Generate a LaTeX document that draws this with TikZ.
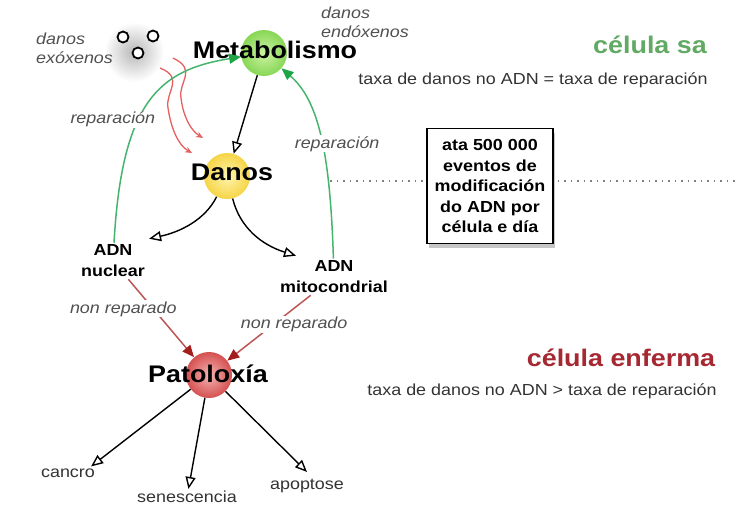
\documentclass[tikz,border=0pt]{standalone}
\usepackage{fontspec}
\setmainfont{Liberation Sans}[FakeStretch=1.12]
\usetikzlibrary{arrows.meta,shadows}
\definecolor{healthy}{RGB}{98,170,100}
\definecolor{sick}{RGB}{165,40,50}
\definecolor{fixline}{RGB}{70,180,110}
\definecolor{fixhead}{RGB}{30,165,70}
\definecolor{lossline}{RGB}{190,85,85}
\definecolor{losshead}{RGB}{165,30,30}
\definecolor{hit}{RGB}{232,95,95}
\definecolor{note}{RGB}{80,80,80}
\tikzset{
x=1pt, y=-1pt, % one unit per pixel, y runs downwards
ball/.style={circle, minimum size=46pt, inner sep=0pt}, % the shaded spheres
big/.style={font=\bfseries\fontsize{24}{28}\selectfont}, % text on the spheres
word/.style={font=\fontsize{16}{19}\selectfont, text=black!80, inner sep=2pt},
dna/.style={font=\bfseries\fontsize{16}{21}\selectfont, align=center, inner sep=2pt},
lbl/.style={font=\itshape\fontsize{16}{19}\selectfont, text=note, fill=white, inner sep=1pt}, % labels on the edges
radical/.style={draw, circle, minimum size=11pt, inner sep=0pt, line width=1.8pt, fill=white},
fact/.style={draw, fill=white, line width=1.2pt, align=center, font=\bfseries\fontsize{16}{20.5}\selectfont,
  minimum width=126pt, minimum height=115pt, drop shadow={opacity=.45, shadow xshift=2pt, shadow yshift=-4pt}},
hollow/.style={-{Triangle[open, length=12pt, width=10pt]}, line width=1.4pt}, % plain black arrows
fix/.style={draw=fixline, line width=1.5pt, -{Triangle[length=12pt, width=10pt, color=fixhead]}}, % repair
loss/.style={draw=lossline, line width=1.5pt, -{Triangle[length=12pt, width=10pt, color=losshead]}}, % not repaired
hitarrow/.style={draw=hit, line width=1.3pt, -{Stealth[length=7pt, width=6pt]}},
}
\begin{document}
\begin{tikzpicture}
    \useasboundingbox (0,0) rectangle (736,512);
    % blurred shadow under the radicals
    \shade[inner color=black!28, outer color=white] (134,52) circle (30);
    \node[radical] at (123,37) (r1) {};
    \node[radical] at (153,36) (r2) {};
    \node[radical] at (138,53) (r3) {};
    \node[lbl, fill=none, anchor=west, align=left] at (35,48) (exo) {danos\\exóxenos};
    \node[lbl, fill=none, anchor=west, align=left] at (320,22) (endo) {danos\\endóxenos};
    % divider between healthy and sick cell
    \coordinate (cut) at (330,181);
    \coordinate (rim) at (736,181);
    \draw[gray, line width=1.2pt, dash pattern=on 1.5pt off 5pt] (cut) -- (rim);
    \node[fact] at (490,186) (fact) {ata 500 000\\eventos de\\modificación\\do ADN por\\célula e día};
    \node[ball, inner color={rgb,255:red,205;green,242;blue,165}, outer color={rgb,255:red,135;green,215;blue,85},
      label={[big, xshift=11pt, yshift=3pt]center:Metabolismo}] at (264,53) (meta) {};
    \node[ball, inner color={rgb,255:red,255;green,246;blue,175}, outer color={rgb,255:red,246;green,212;blue,70},
      label={[big, xshift=5pt, yshift=4pt]center:Danos}] at (227,176) (dano) {};
    \node[ball, inner color={rgb,255:red,246;green,180;blue,180}, outer color={rgb,255:red,212;green,80;blue,80},
      label={[big, xshift=-1pt, yshift=1pt]center:Patoloxía}] at (209,375) (pato) {};
    \node[dna] at (113,261) (nucl) {ADN\\nuclear};
    \node[dna] at (334,277) (mito) {ADN\\mitocondrial};
    \node[word] at (68,473) (canc) {cancro};
    \node[word] at (187,497) (sene) {senescencia};
    \node[word] at (307,486) (apop) {apoptose};
    \node[big, text=healthy] at (650,45) (sa) {célula sa};
    \node[big, text=sick] at (621,358) (enf) {célula enferma};
    \node[word, anchor=base] at (533,84) (rate1) {taxa de danos no ADN = taxa de reparación};
    \node[word, anchor=base] at (542,395) (rate2) {taxa de danos no ADN > taxa de reparación};
    % exogenous hits
    \coordinate (hit1) at (160,68);
    \coordinate (hit1e) at (192,153);
    \coordinate (hit2) at (173,58);
    \coordinate (hit2e) at (203,138);
    \draw[hitarrow] (hit1) .. controls (185,78) and (165,92) .. (168,108) .. controls (171,128) and (178,145) .. (hit1e);
    \draw[hitarrow] (hit2) .. controls (198,70) and (178,82) .. (181,98) .. controls (183,115) and (190,130) .. (hit2e);
    \draw[hollow]
    (meta) edge (dano)
    (pato) edge ([xshift=-6pt]canc.north east)
    (pato) edge (sene)
    (pato) edge ([yshift=5pt]apop.north)
    ;
    \draw[hollow] (dano) .. controls (205,220) and (180,232) .. ([shift={(2pt,4pt)}]nucl.north east);
    \draw[hollow] (dano) .. controls (240,228) and (262,245) .. ([shift={(-38pt,3pt)}]mito.north);
    \draw[fix] (nucl) .. controls (122,100) and (160,70) .. (meta) node[lbl, pos=.4, xshift=-26pt] {reparación};
    \draw[fix] (mito) .. controls (330,150) and (318,100) .. (meta) node[lbl, pos=.45, xshift=15pt] {reparación};
    \draw[loss] (nucl) -- (pato) node[lbl, pos=.38, xshift=-30pt] {non reparado};
    \draw[loss] (mito) -- (pato) node[lbl, pos=.45, xshift=21pt] {non reparado};
\end{tikzpicture}
\end{document}
